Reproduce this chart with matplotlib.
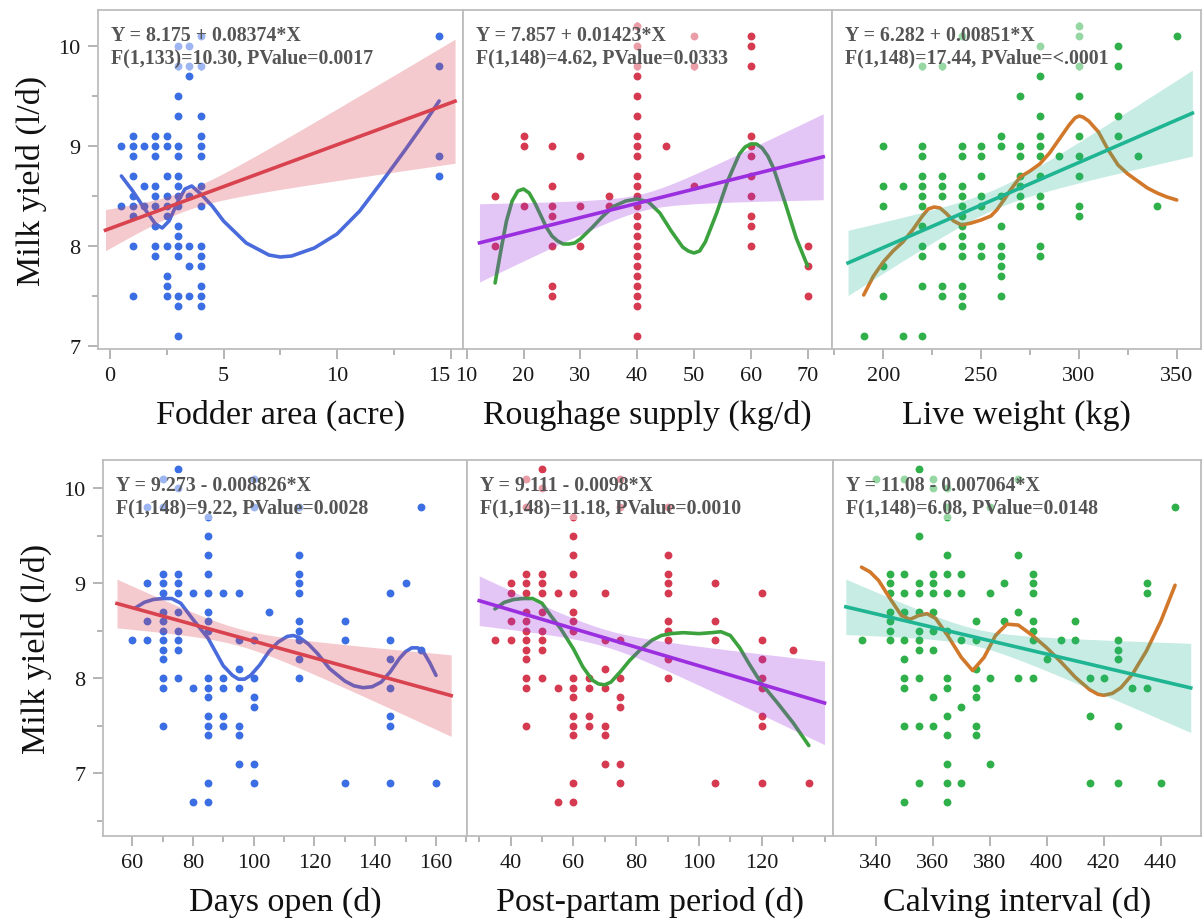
import numpy as np
import matplotlib
matplotlib.use('Agg')
import matplotlib.pyplot as plt
from matplotlib.ticker import MultipleLocator, FixedLocator

plt.rcParams['font.family'] = ['Liberation Serif', 'DejaVu Serif']

# ---- scatter data: x value -> milk yields (l/d) seen at that x ----
fodder_pts = {
    0.5: [9.0, 8.4],
    1.0: [9.1, 9.0, 8.9, 8.7, 8.5, 8.4, 8.3, 8.0, 7.5],
    1.5: [9.0, 8.6, 8.4],
    2.0: [9.1, 9.0, 8.9, 8.6, 8.5, 8.4, 8.2, 8.0, 7.9],
    2.5: [9.1, 9.0, 8.7, 8.5, 8.4, 8.3, 8.0, 7.7, 7.6, 7.5],
    3.0: [10.0, 9.8, 9.5, 9.3, 9.0, 8.9, 8.7, 8.6, 8.5, 8.4, 8.2, 8.1, 8.0, 7.9, 7.5, 7.4, 7.1],
    3.5: [10.0, 9.8, 9.7, 8.5, 8.0, 7.8, 7.5],
    4.0: [10.1, 9.8, 9.3, 9.1, 9.0, 8.9, 8.6, 8.4, 8.0, 7.9, 7.8, 7.6, 7.5, 7.4],
    14.5: [10.1, 9.8, 8.9, 8.7],
}
roughage_pts = {
    15: [8.5, 8.0],
    20: [9.1, 9.0, 8.4],
    25: [9.0, 8.6, 8.4, 8.3, 8.0, 7.6, 7.5],
    30: [8.9, 8.4, 8.0],
    35: [8.5, 8.4],
    40: [10.2, 10.0, 9.8, 9.7, 9.5, 9.3, 9.1, 9.0, 8.9, 8.7, 8.6, 8.5, 8.4, 8.3,
         8.2, 8.1, 8.0, 7.9, 7.8, 7.7, 7.6, 7.5, 7.4, 7.1],
    45: [9.0],
    50: [10.1, 9.8, 8.6],
    60: [10.1, 10.0, 9.8, 9.1, 9.0, 8.9, 8.7, 8.5, 8.3, 8.2, 8.0],
    70: [8.0, 7.8, 7.5],
}
weight_pts = {
    190: [7.1],
    200: [9.0, 8.6, 8.4, 7.8, 7.5],
    210: [8.6, 7.1],
    220: [9.8, 9.0, 8.9, 8.7, 8.6, 8.5, 8.4, 8.2, 8.0, 7.9, 7.6, 7.1],
    230: [9.8, 8.7, 8.6, 8.5, 8.0, 7.6, 7.5],
    240: [10.1, 9.0, 8.9, 8.6, 8.5, 8.4, 8.3, 8.2, 8.1, 8.0, 7.9, 7.6, 7.5, 7.4],
    250: [9.0, 8.9, 8.7, 8.5, 8.4, 8.0, 7.9],
    260: [9.1, 9.0, 8.5, 8.2, 8.0, 7.9, 7.8, 7.7, 7.5],
    270: [9.5, 9.0, 8.9, 8.7, 8.6, 8.5, 8.4],
    280: [10.0, 9.7, 9.3, 9.1, 9.0, 8.9, 8.7, 8.5, 8.4, 8.0, 7.9],
    290: [8.9],
    300: [10.2, 10.1, 9.8, 9.5, 9.1, 8.9, 8.7, 8.4, 8.3],
    320: [10.0, 9.8, 9.3, 9.1],
    330: [8.9],
    340: [8.4],
    350: [10.1],
}
days_pts = {
    60: [8.4],
    65: [9.8, 9.0, 8.6, 8.4],
    70: [10.1, 9.8, 9.1, 9.0, 8.9, 8.7, 8.6, 8.5, 8.4, 8.3, 8.2, 8.0, 7.9, 7.5],
    75: [10.2, 10.0, 9.1, 9.0, 8.9, 8.7, 8.5, 8.4, 8.3, 8.0],
    80: [8.9, 7.9, 6.7],
    85: [9.7, 9.5, 9.3, 9.1, 8.9, 8.7, 8.6, 8.5, 8.0, 7.9, 7.8, 7.6, 7.5, 7.4, 6.9, 6.7],
    90: [8.9, 8.0, 7.9, 7.6, 7.5],
    95: [8.9, 8.4, 8.1, 7.9, 7.5, 7.4, 7.1],
    100: [10.1, 9.8, 8.4, 8.0, 7.8, 7.7, 7.1, 6.9],
    105: [8.7],
    115: [9.8, 9.3, 9.1, 9.0, 8.9, 8.6, 8.5, 8.4, 8.2, 8.0],
    130: [8.6, 8.4, 6.9],
    145: [8.9, 8.4, 8.2, 7.9, 7.6, 7.5, 6.9],
    150: [9.0],
    155: [9.8, 8.3],
    160: [6.9],
}
postpartum_pts = {
    35: [8.4],
    40: [9.0, 8.9, 8.6, 8.4],
    45: [10.1, 9.8, 9.1, 9.0, 8.9, 8.7, 8.6, 8.5, 8.4, 8.3, 8.2, 8.0, 7.9, 7.5],
    50: [10.2, 10.0, 9.1, 9.0, 8.9, 8.7, 8.5, 8.4, 8.3, 8.0],
    55: [8.9, 7.9, 6.7],
    60: [9.7, 9.5, 9.3, 9.1, 8.9, 8.7, 8.6, 8.5, 8.0, 7.9, 7.8, 7.6, 7.5, 7.4, 6.9, 6.7],
    65: [8.0, 7.9, 7.6, 7.5],
    70: [8.9, 8.4, 8.1, 7.9, 7.5, 7.4, 7.1],
    75: [10.1, 9.8, 8.4, 8.0, 7.8, 7.7, 7.1, 6.9],
    90: [9.8, 9.3, 9.1, 9.0, 8.9, 8.6, 8.5, 8.4, 8.2, 8.0],
    105: [9.0, 8.6, 8.4, 6.9],
    120: [8.9, 8.4, 8.2, 8.0, 7.9, 7.6, 7.5, 6.9],
    130: [8.3],
    135: [6.9],
}
calving_pts = {
    335: [8.4],
    340: [10.1],
    345: [9.1, 9.0, 8.9, 8.7, 8.6, 8.5, 8.4],
    350: [10.1, 9.1, 8.9, 8.7, 8.4, 8.2, 8.0, 7.9, 7.5, 6.7],
    355: [10.2, 9.5, 9.0, 8.9, 8.7, 8.5, 8.4, 8.3, 8.0, 7.5, 6.9],
    360: [10.1, 10.0, 9.1, 9.0, 8.9, 8.7, 8.5, 8.3, 7.8, 7.5],
    365: [10.0, 9.8, 9.7, 9.3, 9.1, 8.9, 8.5, 8.0, 7.9, 7.6, 7.4, 7.1, 6.9, 6.7],
    370: [9.1, 8.9, 8.4, 7.7, 6.9],
    375: [8.6, 8.4, 8.1, 7.9, 7.8, 7.5, 7.4],
    380: [9.8, 8.9, 8.0, 7.1],
    385: [9.0, 8.6],
    390: [10.1, 9.3, 8.7, 8.0],
    395: [9.1, 9.0, 8.9, 8.6, 8.5, 8.4, 8.0],
    400: [8.2],
    405: [8.4],
    410: [8.6, 8.4],
    415: [8.0, 7.6, 6.9],
    420: [8.0],
    425: [8.4, 8.3, 8.2, 7.5, 6.9],
    430: [7.9],
    435: [9.0, 8.9, 7.9],
    440: [6.9],
    445: [9.8],
}

# ---- smoothing curves ----
fodder_curve_x = [0.5, 1.0, 1.5, 2.0, 2.3, 2.6, 3.0, 3.3, 3.6, 4.0, 4.5, 5.0, 6.0, 7.0, 7.5,
                  8.0, 9.0, 10.0, 11.0, 12.0, 13.0, 14.0, 14.5]
fodder_curve_y = [8.70, 8.55, 8.38, 8.22, 8.18, 8.25, 8.45, 8.57, 8.60, 8.52, 8.40, 8.25, 8.03,
                  7.91, 7.89, 7.90, 7.98, 8.12, 8.35, 8.65, 8.96, 9.28, 9.45]
roughage_curve_x = [15, 16, 17, 18, 19, 20, 21, 22, 23, 24, 25, 26, 27, 28, 29, 30, 32, 34, 36,
                    38, 40, 42, 44, 46, 48, 49, 50, 51, 52, 54, 56, 58, 59, 60, 61, 62, 63, 64,
                    66, 68, 70]
roughage_curve_y = [7.63, 7.95, 8.25, 8.45, 8.55, 8.57, 8.53, 8.43, 8.31, 8.19, 8.10, 8.05, 8.02,
                    8.02, 8.03, 8.07, 8.18, 8.30, 8.40, 8.45, 8.47, 8.44, 8.33, 8.15, 7.99, 7.95,
                    7.93, 7.95, 8.04, 8.33, 8.66, 8.92, 8.99, 9.02, 9.02, 8.98, 8.90, 8.78,
                    8.44, 8.08, 7.80]
weight_curve_x = [190, 195, 200, 205, 210, 215, 220, 223, 226, 229, 232, 236, 240, 245, 250, 255,
                  258, 262, 265, 270, 275, 280, 285, 290, 295, 298, 300, 302, 305, 310, 315,
                  320, 325, 330, 335, 340, 345, 350]
weight_curve_y = [7.51, 7.70, 7.84, 7.95, 8.04, 8.16, 8.30, 8.37, 8.39, 8.38, 8.33, 8.25, 8.21,
                  8.23, 8.26, 8.30, 8.36, 8.47, 8.56, 8.69, 8.75, 8.82, 8.93, 9.07, 9.21, 9.28,
                  9.30, 9.29, 9.25, 9.14, 8.96, 8.81, 8.72, 8.65, 8.58, 8.53, 8.49, 8.46]
days_curve_x = [61, 64, 67, 70, 73, 76, 80, 85, 90, 93, 95, 97, 99, 102, 105, 108, 111, 113, 115,
                118, 121, 125, 130, 133, 136, 139, 142, 145, 148, 150, 152, 154, 156, 158, 160]
days_curve_y = [8.74, 8.80, 8.83, 8.84, 8.84, 8.79, 8.62, 8.42, 8.13, 8.03, 7.99, 7.99, 8.03,
                8.14, 8.28, 8.38, 8.44, 8.45, 8.43, 8.36, 8.26, 8.10, 7.97, 7.92, 7.90, 7.91,
                7.96, 8.07, 8.21, 8.28, 8.32, 8.32, 8.27, 8.16, 8.03]
postpartum_curve_x = [35, 38, 41, 44, 47, 50, 53, 56, 60, 63, 66, 68, 70, 72, 75, 78, 81, 85, 88,
                      91, 95, 100, 104, 107, 110, 113, 116, 120, 125, 130, 135]
postpartum_curve_y = [8.73, 8.80, 8.83, 8.84, 8.84, 8.79, 8.65, 8.52, 8.31, 8.12, 7.98, 7.94,
                      7.93, 7.96, 8.07, 8.19, 8.29, 8.40, 8.45, 8.47, 8.48, 8.47, 8.48, 8.49,
                      8.45, 8.32, 8.15, 7.94, 7.74, 7.53, 7.29]
calving_curve_x = [335, 338, 341, 345, 349, 352, 355, 358, 361, 365, 370, 374, 378, 382, 386,
                   390, 395, 400, 405, 410, 415, 418, 420, 423, 426, 430, 435, 440, 445]
calving_curve_y = [9.17, 9.12, 9.03, 8.84, 8.66, 8.62, 8.66, 8.68, 8.63, 8.46, 8.22, 8.08, 8.22,
                   8.45, 8.57, 8.56, 8.45, 8.32, 8.17, 8.01, 7.88, 7.83, 7.82, 7.84, 7.90, 8.04,
                   8.29, 8.60, 8.98]

# ---- fit: intercept, slope, x of narrowest band, its half width, half width at right end ----
fit_intercept = [8.175, 7.857, 6.282, 9.273, 9.111, 11.08]
fit_slope = [0.08374, 0.01423, 0.00851, -0.008826, -0.0098, -0.007064]
band_center = [3.3, 41, 257, 95, 70, 375]
band_min_hw = [0.10, 0.085, 0.10, 0.09, 0.09, 0.09]
band_right_hw = [0.62, 0.43, 0.43, 0.43, 0.44, 0.47]

fit_text = [
    'Y = 8.175 + 0.08374*X\nF(1,133)=10.30, PValue=0.0017',
    'Y = 7.857 + 0.01423*X\nF(1,148)=4.62, PValue=0.0333',
    'Y = 6.282 + 0.00851*X\nF(1,148)=17.44, PValue=<.0001',
    'Y = 9.273 - 0.008826*X\nF(1,148)=9.22, PValue=0.0028',
    'Y = 9.111 - 0.0098*X\nF(1,148)=11.18, PValue=0.0010',
    'Y = 11.08 - 0.007064*X\nF(1,148)=6.08, PValue=0.0148',
]
x_labels = ['Fodder area (acre)', 'Roughage supply (kg/d)', 'Live weight (kg)',
            'Days open (d)', 'Post-partam period (d)', 'Calving interval (d)']

all_pts = [fodder_pts, roughage_pts, weight_pts, days_pts, postpartum_pts, calving_pts]
all_curves = [(fodder_curve_x, fodder_curve_y), (roughage_curve_x, roughage_curve_y),
              (weight_curve_x, weight_curve_y), (days_curve_x, days_curve_y),
              (postpartum_curve_x, postpartum_curve_y), (calving_curve_x, calving_curve_y)]

# colours per column: points, fit line / band, smoother
pt_colors = ['#3b6ee3', '#d53a50', '#2fb04a']
fit_colors = ['#d9434f', '#9b2fe0', '#1fb593']
band_alpha = [0.28, 0.28, 0.25]
curve_colors = ['#4a6bdc', '#3ca23e', '#d2782a']

xlims = [(-0.53, 15.55), (9.35, 74.3), (173.8, 362.4),
         (50.4, 170.3), (26.2, 142.8), (325.1, 454.1)]
xmajor = [[0, 5, 10, 15], [10, 20, 30, 40, 50, 60, 70], [200, 250, 300, 350],
          [60, 80, 100, 120, 140, 160], [40, 60, 80, 100, 120], [340, 360, 380, 400, 420, 440]]
xminor = [[2.5, 7.5, 12.5], [], [175, 225, 275, 325],
          [50, 70, 90, 110, 130, 150, 170], [30, 50, 70, 90, 110, 130, 140], []]

fig = plt.figure(figsize=(12.03, 9.2), dpi=100)
W, H = 1203., 920.
top_lefts = [98, 463, 832, 1201]
bot_lefts = [103, 467.3, 833.3, 1201]
rows = [(11, 350, top_lefts, (6.97, 10.36)), (461, 836.7, bot_lefts, (6.34, 10.30))]

spine_c = '#bdbdbd'
tick_c = '#a0a0a0'

for r, (ytop, ybot, lefts, ylim) in enumerate(rows):
    for c in range(3):
        i = r * 3 + c
        ax = fig.add_axes([lefts[c] / W, 1 - ybot / H, (lefts[c + 1] - lefts[c]) / W, (ybot - ytop) / H])
        pts = all_pts[i]
        xs = [k for k, v in pts.items() for _ in v]
        ys = [y for v in pts.values() for y in v]
        ax.scatter(xs, ys, s=32, color=pt_colors[c], linewidths=0, zorder=2)

        cx, cy = all_curves[i]
        ax.plot(cx, cy, color=curve_colors[c], lw=2.6, solid_joinstyle='round',
                solid_capstyle='round', zorder=3)

        lo, hi = min(xs), max(xs)
        pad = 0.05 * (hi - lo)
        xx = np.linspace(lo - pad, hi + pad, 200)
        fit = fit_intercept[i] + fit_slope[i] * xx
        k = (band_right_hw[i] ** 2 - band_min_hw[i] ** 2) / (hi + pad - band_center[i]) ** 2
        hw = np.sqrt(band_min_hw[i] ** 2 + k * (xx - band_center[i]) ** 2)
        ax.fill_between(xx, fit - hw, fit + hw, color=fit_colors[c], alpha=band_alpha[c],
                        linewidth=0, zorder=4)
        ax.plot(xx, fit, color=fit_colors[c], lw=2.6, zorder=5)

        ax.annotate(fit_text[i], xy=(0, 1), xycoords='axes fraction', xytext=(9.5, -11),
                    textcoords='offset points', ha='left', va='top', fontsize=14.3,
                    fontweight='bold', color='#555555', linespacing=1.15, zorder=10,
                    bbox=dict(facecolor='white', alpha=0.5, edgecolor='none', pad=1.5))

        ax.set_xlim(*xlims[i])
        ax.set_ylim(*ylim)
        ax.xaxis.set_major_locator(FixedLocator(xmajor[i]))
        ax.xaxis.set_minor_locator(FixedLocator(xminor[i]))
        ax.yaxis.set_major_locator(MultipleLocator(1))
        ax.yaxis.set_minor_locator(MultipleLocator(0.5))
        for sp in ax.spines.values():
            sp.set_color(spine_c)
            sp.set_linewidth(1.3)
        ax.tick_params(which='major', length=7.5, width=1.1, color=tick_c, labelsize=16,
                       pad=5, labelcolor='#1a1a1a')
        ax.tick_params(which='minor', length=4, width=1.1, color=tick_c)
        if c > 0:
            ax.tick_params(axis='y', which='both', left=False, labelleft=False)
        else:
            ax.set_ylabel('Milk yield (l/d)', fontsize=24.5, labelpad=8, color='#111111')
        ax.set_xlabel(x_labels[i], fontsize=24.5, labelpad=10, color='#111111')
        if i == 0:
            # keep "15" clear of the neighbouring panel's "10"
            ax.get_xticklabels()[-1].set_horizontalalignment('right')

fig.savefig('out.png', dpi=100)
